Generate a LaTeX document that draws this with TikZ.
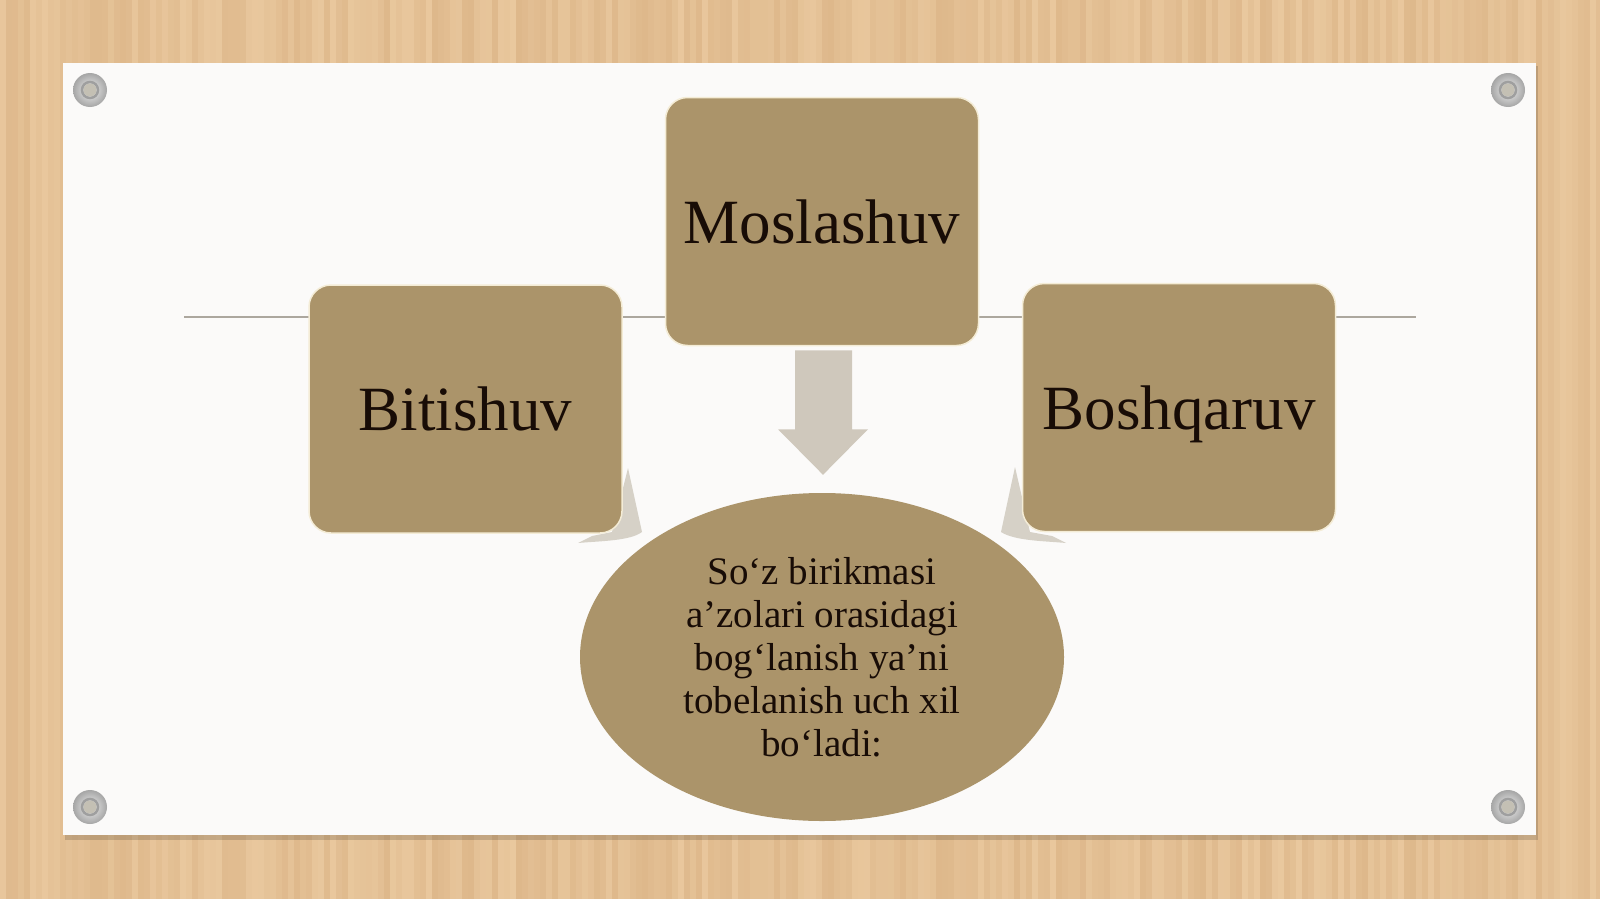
\documentclass[tikz,border=0pt]{standalone}
\usepackage{fontspec}
\setmainfont{Liberation Serif}
\usetikzlibrary{shapes.geometric,calc}
\definecolor{woodA}{RGB}{233,200,158}
\definecolor{woodB}{RGB}{222,184,139}
\definecolor{paper}{RGB}{251,250,249}
\definecolor{tan}{RGB}{171,148,106}
\definecolor{tanedge}{RGB}{244,236,214}
\definecolor{arrowc}{RGB}{207,200,188}
\definecolor{smallarr}{RGB}{214,209,199}
\definecolor{linec}{RGB}{172,167,158}
\definecolor{txt}{RGB}{24,12,6}
\definecolor{holec}{RGB}{196,192,180}
\tikzset{
  tanbox/.style={rectangle, rounded corners=22pt, fill=tan, draw=tanedge, line width=1.5pt,
    minimum width=313pt, minimum height=248pt, inner sep=0pt, text=txt, text depth=0pt,
    font=\fontsize{63}{70}\selectfont},
  tanoval/.style={ellipse, fill=tan, minimum width=484pt, minimum height=328pt, inner sep=0pt,
    text=txt, align=center, font=\fontsize{39}{43}\selectfont},
}
\begin{document}
\begin{tikzpicture}[x=1pt,y=-1pt]
\useasboundingbox (0,0) rectangle (1600,899);
% wood background
\pgfmathsetseed{7}
\fill[woodA] (0,0) rectangle (1600,899);
\foreach \i in {0,...,266}{
  \pgfmathtruncatemacro\t{100*rnd}
  \fill[woodA!\t!woodB] (\i*6,0) rectangle ++(6,899);
}
% paper
\fill[black, opacity=0.15] (65,66) rectangle (1538,840);
\fill[paper] (63,63) rectangle (1536,835);
% screws
\foreach \sx/\sy in {90/90, 1508/90, 90/807, 1508/807}{
  \shade[inner color=gray!12, outer color=gray!70] (\sx,\sy) circle (17);
  \draw[gray!75, line width=2.5pt] (\sx,\sy) circle (8);
  \fill[holec] (\sx,\sy) circle (6.5);
}
% horizontal line
\coordinate (lineL) at (184,317);
\coordinate (lineR) at (1416,317);
\draw[linec, line width=2pt] (lineL) -- (lineR);
% small curved arrows (mostly hidden)
\fill[smallarr] (612,532) -- (628,468) -- (642,532) .. controls (630,541) and (600,541) .. (578,543) -- (592,536) -- cycle;
\fill[smallarr] (1030,532) -- (1015,467) -- (1001,532) .. controls (1015,541) and (1045,541) .. (1066,543) -- (1052,536) -- cycle;
% boxes
\node[tanbox] (bit) at (465.5,409) {Bitishuv};
\node[tanbox] (mos) at (822,221.5) {Moslashuv};
\node[tanbox] (bos) at (1179,407.5) {Boshqaruv};
% ellipse
\node[tanoval] (ell) at (822,657) {So‘z birikmasi\\a’zolari orasidagi\\bog‘lanish ya’ni\\tobelanish uch xil\\bo‘ladi:};
% block arrow from Moslashuv to ellipse
\fill[arrowc] ($(mos.south)+(-27,4)$) -- ++(57,0) -- ++(0,79) -- ++(16,0)
  -- ($(ell.north)+(1,-18)$) -- ($(mos.south)+(-44,83)$) -- ++(17,0) -- cycle;
\end{tikzpicture}
\end{document}
